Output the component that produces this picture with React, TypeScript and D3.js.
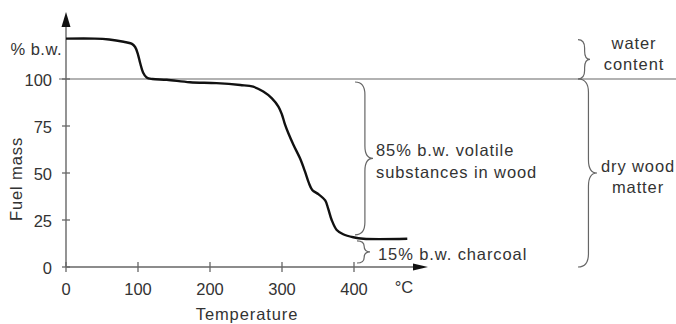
import React, { useEffect, useRef } from "react";
import * as d3 from "d3";

// Thermogravimetric curve of wood
const temperature = [0, 40, 60, 80, 91, 96, 100, 103, 107, 112, 120, 140, 172, 209, 242, 260, 274, 286, 295, 300, 304, 309, 316, 325, 332, 337, 342, 351, 360, 364, 369, 376, 385, 399, 413, 474];
const fuelMass = [121.5, 121.5, 121.0, 119.8, 118.8, 117, 113, 108.5, 103.5, 100.8, 100, 99.6, 98.3, 97.8, 96.8, 95.9, 93.3, 89.7, 85.3, 81, 76, 71, 64.9, 57.8, 50.7, 45, 41, 38.6, 35.4, 31.2, 25, 19.7, 17.4, 15.8, 15, 15];

const xTicks = [0, 100, 200, 300, 400];
const yTicks = [0, 25, 50, 75, 100];

// brace ranges in % b.w.
const waterRange = [121.5, 100];
const dryRange = [100, 0];
const volatileRange = [100, 15];
const charcoalRange = [15, 0];

const volatileLines = ["85% b.w. volatile", "substances in wood"];
const charcoalLabel = "15% b.w. charcoal";
const waterLines = ["water", "content"];
const dryLines = ["dry wood", "matter"];

const FONT = "'Liberation Sans', Arial, Helvetica, sans-serif";
const FS = 16.5;

// curly brace, hooks at x0, tip pointing right at x0 + w
const bracePath = (x0: number, y1: number, y2: number, w: number) => {
  const xs = x0 + w * 0.55;
  const xt = x0 + w;
  const ym = (y1 + y2) / 2;
  const r = Math.min(w * 0.7, (y2 - y1) / 4);
  return `M${x0},${y1} Q${xs},${y1} ${xs},${y1 + r} L${xs},${ym - r} Q${xs},${ym} ${xt},${ym} Q${xs},${ym} ${xs},${ym + r} L${xs},${y2 - r} Q${xs},${y2} ${x0},${y2}`;
};

const App = () => {
  const svgRef = useRef<SVGSVGElement>(null);

  useEffect(() => {
    const width = 676;
    const height = 324;
    const axisColor = "#666";
    const textColor = "#333";

    const svg = d3.select(svgRef.current).attr("width", width).attr("height", height);
    svg.selectAll("*").remove();

    const x = d3.scaleLinear().domain([0, 400]).range([66, 354]);
    const y = d3.scaleLinear().domain([0, 100]).range([267, 79]);

    // 100 % reference line
    svg.append("line")
      .attr("x1", 59).attr("x2", width)
      .attr("y1", y(100)).attr("y2", y(100))
      .attr("stroke", "#999").attr("stroke-width", 1.3);

    // axes
    const x0 = x(0);
    const y0 = y(0);
    svg.append("line").attr("x1", x0).attr("x2", 415).attr("y1", y0).attr("y2", y0)
      .attr("stroke", axisColor).attr("stroke-width", 1.4);
    svg.append("path").attr("d", `M413,${y0 - 3.6} L428,${y0} L413,${y0 + 3.6} Z`).attr("fill", "#111");
    svg.append("line").attr("x1", x0).attr("x2", x0).attr("y1", y0).attr("y2", 25)
      .attr("stroke", axisColor).attr("stroke-width", 1.4);
    svg.append("path").attr("d", `M${x0 - 4.5},27 L${x0},12 L${x0 + 4.5},27 Z`).attr("fill", "#111");

    // x ticks
    svg.append("g").selectAll("line").data(xTicks).enter().append("line")
      .attr("x1", (d) => x(d)).attr("x2", (d) => x(d))
      .attr("y1", y0 - 5).attr("y2", y0 + 5)
      .attr("stroke", axisColor).attr("stroke-width", 1.3);
    svg.append("g").selectAll("text").data(xTicks).enter().append("text")
      .attr("x", (d) => x(d)).attr("y", 295)
      .attr("text-anchor", "middle")
      .attr("font-family", FONT).attr("font-size", FS).attr("fill", textColor)
      .text((d) => d);

    // y ticks
    svg.append("g").selectAll("line").data(yTicks).enter().append("line")
      .attr("x1", x0 - 4).attr("x2", x0 + 4)
      .attr("y1", (d) => y(d)).attr("y2", (d) => y(d))
      .attr("stroke", axisColor).attr("stroke-width", 1.3);
    svg.append("g").selectAll("text").data(yTicks).enter().append("text")
      .attr("x", 52).attr("y", (d) => y(d) + 6.5)
      .attr("text-anchor", "end")
      .attr("font-family", FONT).attr("font-size", FS).attr("fill", textColor)
      .text((d) => d);

    const label = (tx: number, ty: number, s: string, anchor = "start", spacing = 0.9) =>
      svg.append("text")
        .attr("x", tx).attr("y", ty)
        .attr("text-anchor", anchor)
        .attr("letter-spacing", spacing)
        .attr("font-family", FONT).attr("font-size", FS).attr("fill", textColor)
        .text(s);

    label(62, 55, "% b.w.", "end", 0.5);
    label(404, 293, "°C", "middle", 0);
    label(247, 320, "Temperature", "middle");
    svg.append("text")
      .attr("transform", "translate(21.5,179) rotate(-90)")
      .attr("text-anchor", "middle")
      .attr("letter-spacing", 0.9)
      .attr("font-family", FONT).attr("font-size", FS).attr("fill", textColor)
      .text("Fuel mass");

    // curve
    const pts = temperature.map((t, i) => [t, fuelMass[i]] as [number, number]);
    const line = d3.line<[number, number]>()
      .x((d) => x(d[0]))
      .y((d) => y(d[1]))
      .curve(d3.curveCatmullRom.alpha(0.5));
    svg.append("path").datum(pts)
      .attr("d", line)
      .attr("fill", "none")
      .attr("stroke", "#111")
      .attr("stroke-width", 2.4)
      .attr("stroke-linejoin", "round");

    // braces
    const brace = (bx: number, r: number[], w: number, inTop: number, inBot: number) =>
      svg.append("path")
        .attr("d", bracePath(bx, y(r[0]) + inTop, y(r[1]) - inBot, w))
        .attr("fill", "none")
        .attr("stroke", "#666")
        .attr("stroke-width", 1.2);

    brace(355, volatileRange, 18, 3, 4);
    brace(357, charcoalRange, 13, 2, 4);
    brace(578, waterRange, 12, 1, 0);
    brace(578, dryRange, 19, 0, 0);

    volatileLines.forEach((s, i) => label(376, 156 + i * 22, s));
    label(378, 260, charcoalLabel);
    waterLines.forEach((s, i) => label(634, 49 + i * 21, s, "middle"));
    dryLines.forEach((s, i) => label(638, 172 + i * 21, s, "middle"));
  }, []);

  return <svg ref={svgRef} style={{ position: "fixed", left: 0, top: 0, background: "#fff" }}></svg>;
};

export default App;
